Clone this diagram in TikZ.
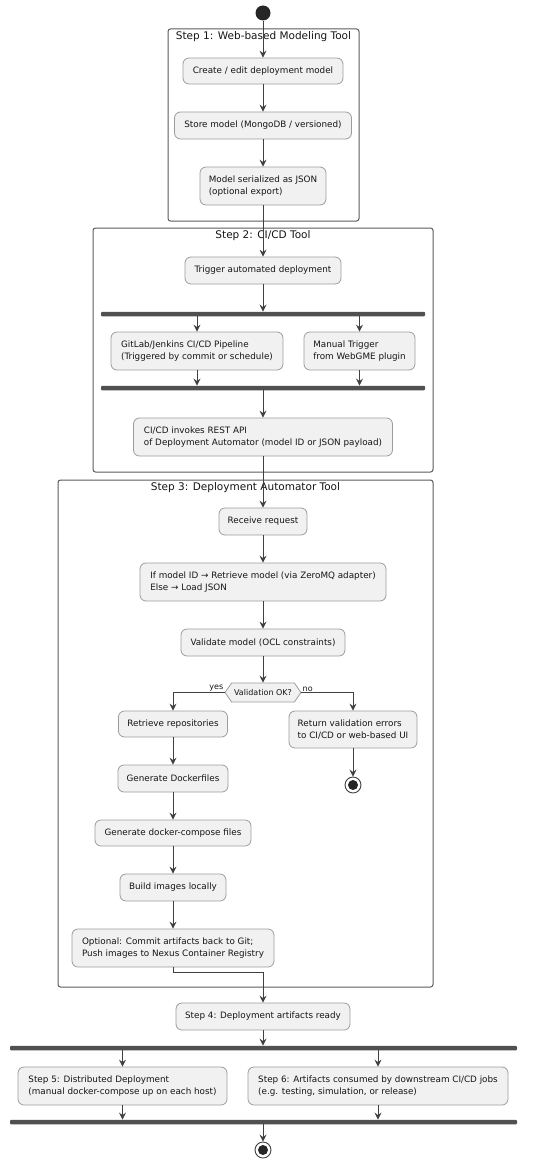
\documentclass[tikz,border=0pt]{standalone}
\usepackage{fontspec}
\setmainfont{DejaVu Sans}
\usetikzlibrary{arrows.meta,shapes.symbols}
\definecolor{nodefill}{HTML}{F1F1F1}
\definecolor{nodeborder}{HTML}{9C9C9C}
\definecolor{framecol}{HTML}{5A5A5A}
\definecolor{darkcol}{HTML}{404040}
\definecolor{barcol}{HTML}{505050}
\definecolor{txtcol}{HTML}{151515}
\newcommand\actfont{\fontsize{8.8}{11.3}\selectfont}
\newcommand\titlefont{\fontsize{10.5}{12}\selectfont}
\newcommand\smallfont{\fontsize{8.0}{9.5}\selectfont}
\tikzset{
  act/.style={draw=nodeborder, fill=nodefill, rounded corners=6pt, font=\actfont,
    text=txtcol, inner xsep=6pt, inner ysep=2pt, align=left, line width=0.8pt},
  framebox/.style={draw=framecol, rounded corners=2.5pt, line width=1pt, inner sep=0pt},
  ftitle/.style={anchor=north, font=\titlefont, text=txtcol, inner sep=2pt, yshift=-1pt},
  bar/.style={fill=barcol, draw=none, inner sep=0pt, minimum height=4.5pt, rounded corners=1pt},
  arr/.style={draw=darkcol, line width=0.9pt, -{Stealth[length=7pt,width=7pt,inset=2.5pt]}},
  startnode/.style={circle, fill=black!85, draw=none, minimum size=15pt, inner sep=0pt},
  stopnode/.style={circle, draw=darkcol, fill=white, line width=0.9pt, minimum size=16pt, inner sep=0pt,
    path picture={\fill[black!85] (path picture bounding box.center) circle (5pt);}},
  decision/.style={shape=signal, signal to=west and east, signal pointer angle=110,
    draw=nodeborder, fill=nodefill, line width=0.8pt, font=\smallfont, text=txtcol,
    minimum height=19pt, minimum width=76pt, inner xsep=1pt, inner ysep=1pt},
  lbl/.style={font=\smallfont, text=txtcol, inner sep=1pt}
}
\begin{document}
\begin{tikzpicture}[x=1pt,y=-1pt]
\useasboundingbox (0,0) rectangle (550,1164);

% frames
\node[framebox, minimum width=191pt, minimum height=192pt] (f1) at (263.5,125) {};
\node[ftitle] (f1t) at (f1.north) {Step 1: Web-based Modeling Tool};
\node[framebox, minimum width=340pt, minimum height=244pt] (f2) at (263,350) {};
\node[ftitle] (f2t) at (f2.north) {Step 2: CI/CD Tool};
\node[framebox, minimum width=375pt, minimum height=507pt] (f3) at (245.5,733.5) {};
\node[ftitle] (f3t) at (f3.north) {Step 3: Deployment Automator Tool};

% start
\node[startnode] (start) at (263,13) {};

% step 1
\node[act, minimum width=160pt, minimum height=26pt] (create) at (263,71) {Create / edit deployment model};
\node[act, minimum width=177pt, minimum height=27pt] (store) at (263,125.5) {Store model (MongoDB / versioned)};
\node[act, minimum width=126pt, minimum height=38pt] (serial) at (263,186) {Model serialized as JSON\\(optional export)};

% step 2
\node[act, minimum width=156pt, minimum height=27pt] (trigger) at (263,270.5) {Trigger automated deployment};
\node[bar, minimum width=324pt] (fork1) at (263,314) {};
\node[act, minimum width=172pt, minimum height=38pt] (gitlab) at (197,351) {GitLab/Jenkins CI/CD Pipeline\\(Triggered by commit or schedule)};
\node[act, minimum width=111pt, minimum height=38pt] (manual) at (359.5,351) {Manual Trigger\\from WebGME plugin};
\node[bar, minimum width=324pt] (join1) at (263,388) {};
\node[act, minimum width=259pt, minimum height=38pt] (invokes) at (263,437) {CI/CD invokes REST API\\of Deployment Automator (model ID or JSON payload)};

% step 3
\node[act, minimum width=88pt, minimum height=27pt] (receive) at (263,521.5) {Receive request};
\node[act, minimum width=246pt, minimum height=38pt] (ifmodel) at (263,582) {If model ID → Retrieve model (via ZeroMQ adapter)\\Else → Load JSON};
\node[act, minimum width=164pt, minimum height=27pt] (validate) at (263,642.5) {Validate model (OCL constraints)};
\node[decision] (dec) at (263,692.5) {Validation OK?};
\node[lbl, anchor=south east] (yes) at (dec.west) {yes};
\node[lbl, anchor=south west] (no) at (dec.east) {no};
\node[act, minimum width=109pt, minimum height=26pt] (retrieve) at (173,724) {Retrieve repositories};
\node[act, minimum width=128pt, minimum height=37pt] (returnerr) at (353,729.5) {Return validation errors\\to CI/CD or web-based UI};
\node[stopnode] (stopA) at (353,785) {};
\node[act, minimum width=110pt, minimum height=27pt] (docker) at (173,778.5) {Generate Dockerfiles};
\node[act, minimum width=156pt, minimum height=26pt] (compose) at (173,833) {Generate docker-compose files};
\node[act, minimum width=106pt, minimum height=27pt] (build) at (173,887.5) {Build images locally};
\node[act, minimum width=202pt, minimum height=38pt] (optional) at (173,948) {Optional: Commit artifacts back to Git;\\Push images to Nexus Container Registry};

% step 4-6
\node[act, minimum width=174pt, minimum height=27pt] (step4) at (263,1016.5) {Step 4: Deployment artifacts ready};
\node[bar, minimum width=507pt] (fork2) at (263.5,1048) {};
\node[act, minimum width=209pt, minimum height=38pt] (step5) at (122.5,1086) {Step 5: Distributed Deployment\\(manual docker-compose up on each host)};
\node[act, minimum width=260pt, minimum height=38pt] (step6) at (378,1086) {Step 6: Artifacts consumed by downstream CI/CD jobs\\(e.g. testing, simulation, or release)};
\node[bar, minimum width=507pt] (join2) at (263.5,1122) {};
\node[stopnode] (stopB) at (263,1150) {};

% connectors
\draw[arr] (start) -- (create);
\draw[arr] (create) -- (store);
\draw[arr] (store) -- (serial);
\draw[arr] (serial) -- (trigger);
\draw[arr] (trigger) -- (trigger |- fork1.north);
\draw[arr] (fork1.south -| gitlab) -- (gitlab);
\draw[arr] (fork1.south -| manual) -- (manual);
\draw[arr] (gitlab) -- (gitlab |- join1.north);
\draw[arr] (manual) -- (manual |- join1.north);
\draw[arr] (join1.south -| invokes) -- (invokes);
\draw[arr] (invokes) -- (receive);
\draw[arr] (receive) -- (ifmodel);
\draw[arr] (ifmodel) -- (validate);
\draw[arr] (validate) -- (validate |- dec.north);
\draw[arr] (dec.west) -| (retrieve);
\draw[arr] (dec.east) -| (returnerr);
\draw[arr] (returnerr) -- (stopA);
\draw[arr] (retrieve) -- (docker);
\draw[arr] (docker) -- (compose);
\draw[arr] (compose) -- (build);
\draw[arr] (build) -- (optional);
\draw[arr] (optional.south) -- ++(0,5) -| (step4.north);
\draw[arr] (step4) -- (step4 |- fork2.north);
\draw[arr] (fork2.south -| step5) -- (step5);
\draw[arr] (fork2.south -| step6) -- (step6);
\draw[arr] (step5) -- (step5 |- join2.north);
\draw[arr] (step6) -- (step6 |- join2.north);
\draw[arr] (join2.south -| stopB) -- (stopB);
\end{tikzpicture}
\end{document}
